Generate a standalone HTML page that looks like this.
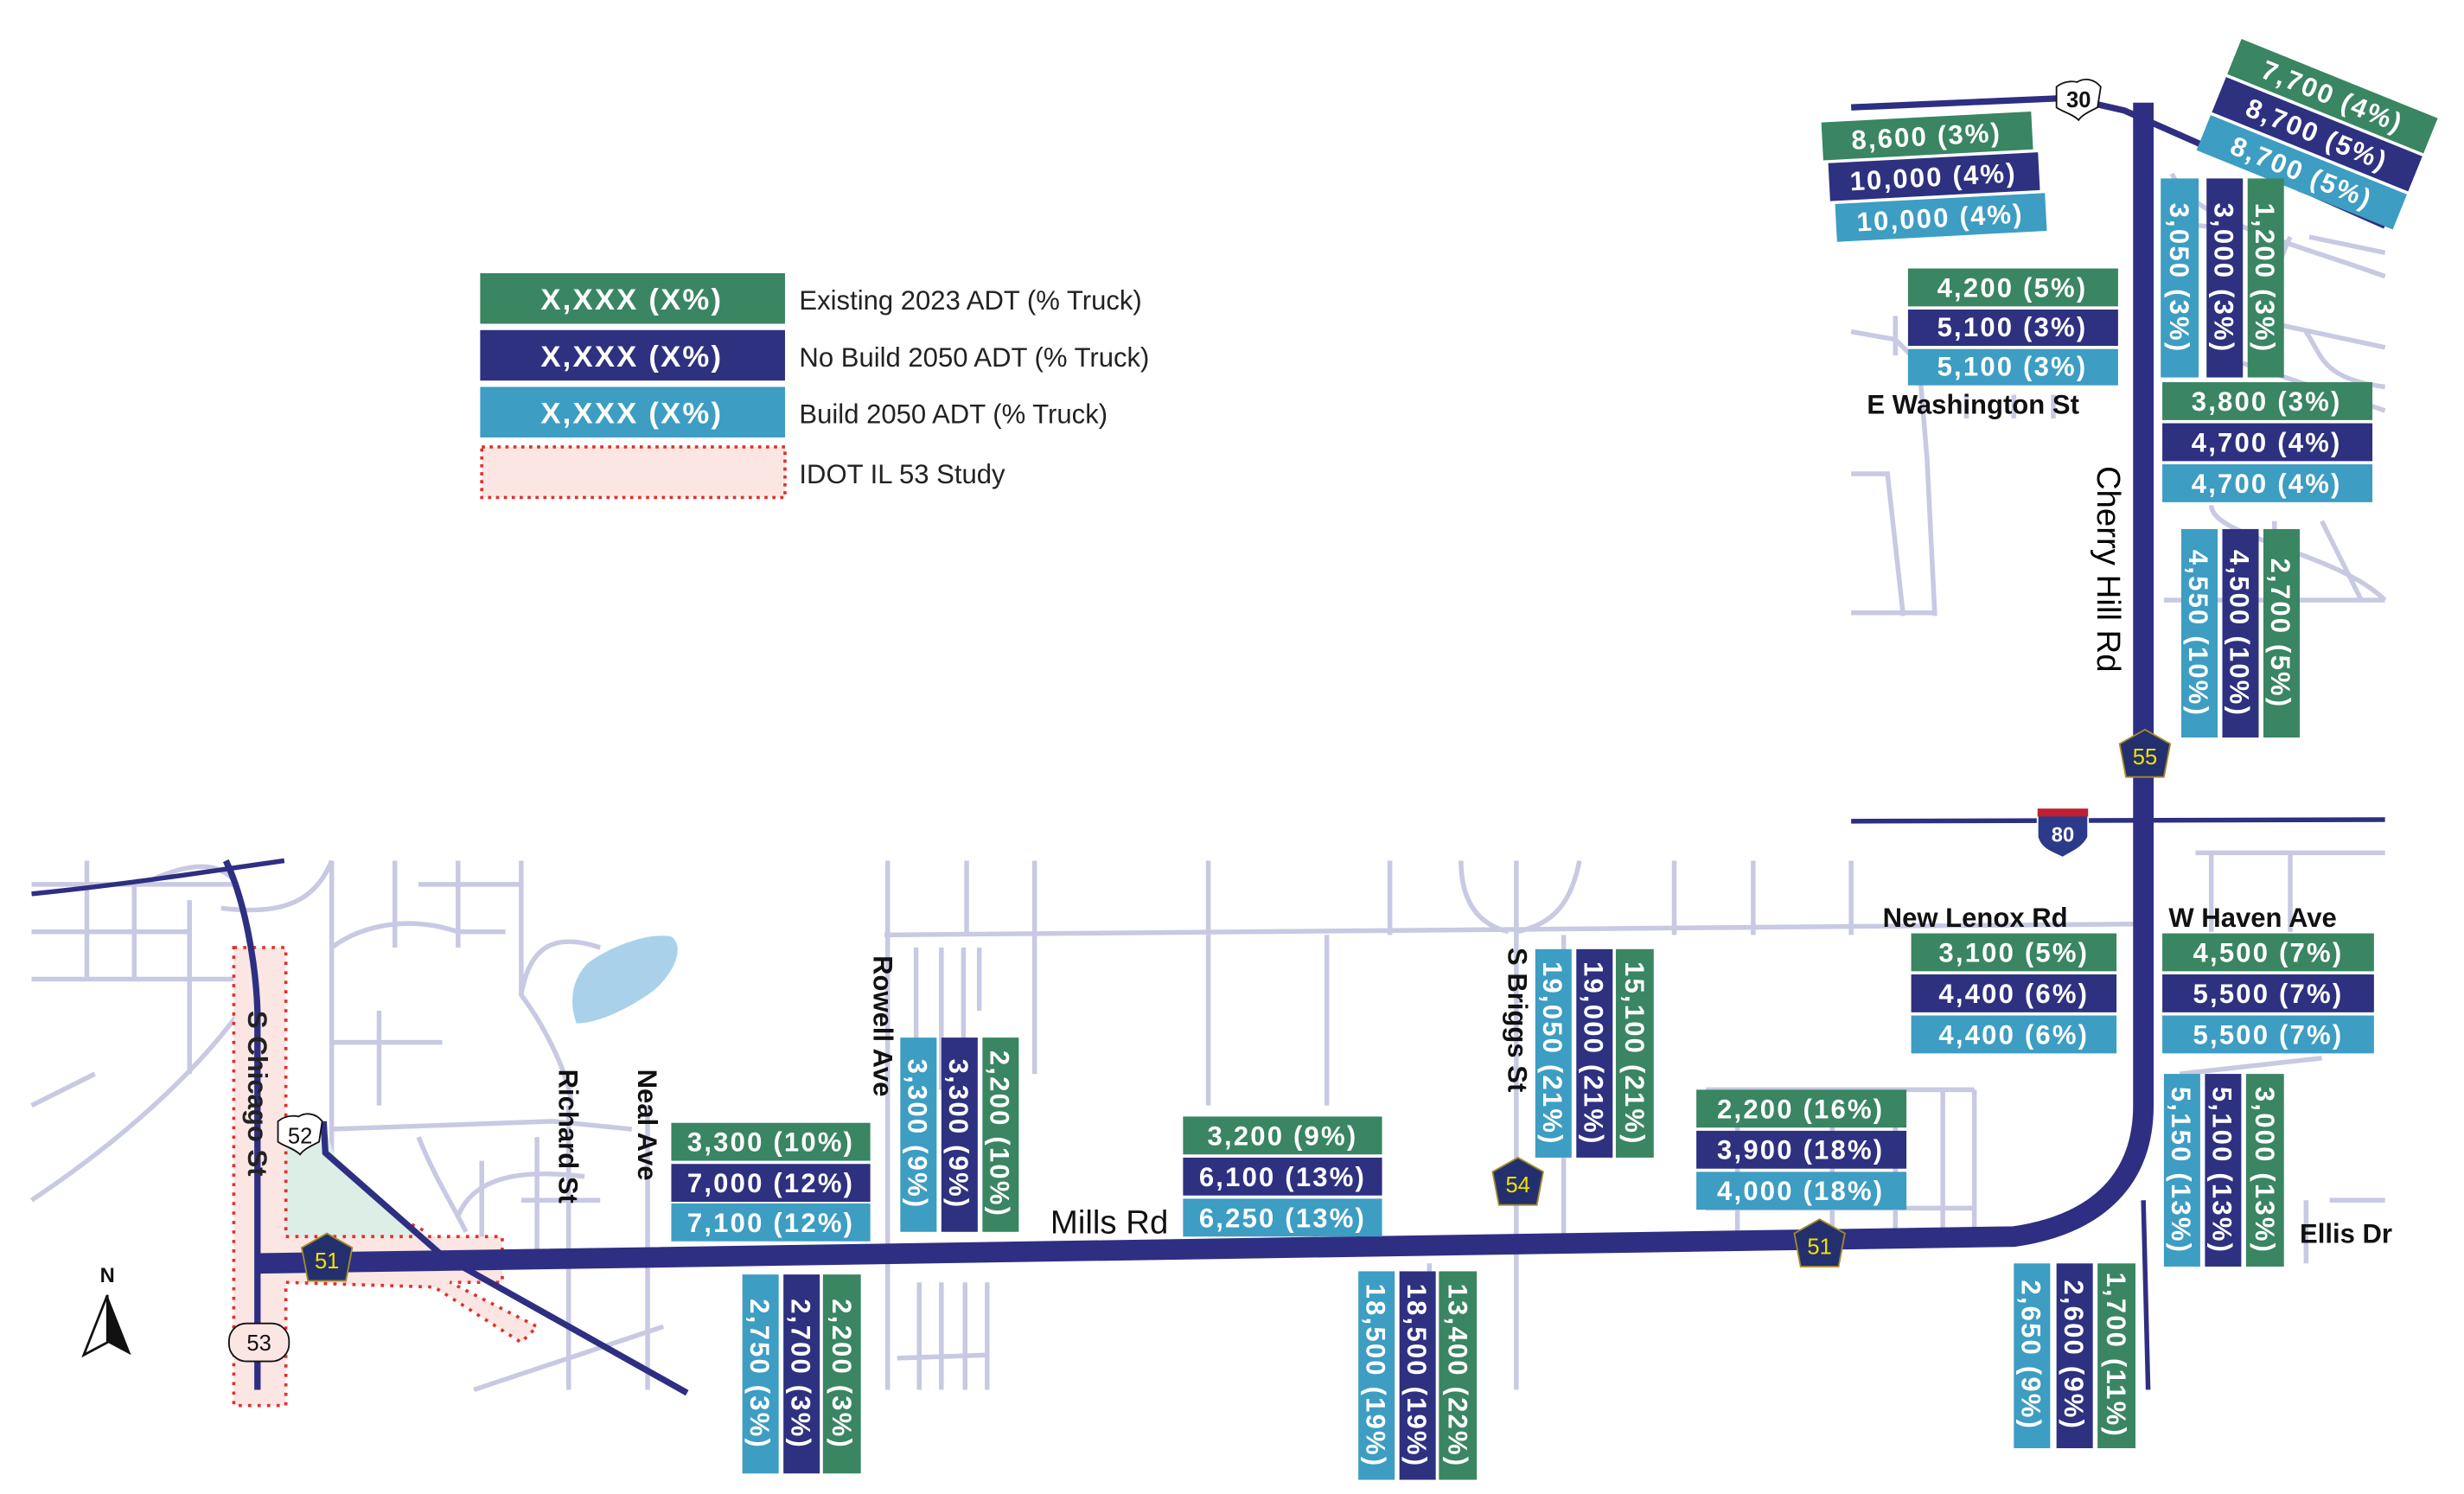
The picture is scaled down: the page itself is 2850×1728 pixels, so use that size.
<!DOCTYPE html>
<html><head><meta charset="utf-8"><style>
html,body{margin:0;padding:0;background:#fff;}
svg{display:block;}
text{font-family:"Liberation Sans",sans-serif;}
.b{font-weight:bold;fill:#fff;font-size:17px;letter-spacing:1.2px;}
.lbl{font-weight:bold;fill:#111;font-size:17px;}
</style></head><body>
<svg width="2850" height="1728" viewBox="0 0 1560 946" preserveAspectRatio="none" xmlns="http://www.w3.org/2000/svg">
<rect width="1560" height="946" fill="#fff"/>
<g stroke="#c8c9e2" stroke-width="3" fill="none">
<path d="M20,560 L150,560 M20,590 L120,590 M20,620 L150,620 M55,545 L55,620 M85,560 L85,620 M120,570 L120,680 M20,760 C80,720 150,660 175,600 M20,700 L60,680"/>
<path d="M90,560 C120,545 140,545 150,560 M140,575 C180,580 200,570 210,545"/>
<path d="M210,545 L210,760 M210,600 C230,585 260,580 290,590 L320,590 M250,545 L250,600 M265,560 L330,560 M290,545 L290,600 M330,545 L330,630 C345,650 360,680 362,700 M330,630 C335,600 350,590 380,600 M210,660 L280,660 M240,640 L240,700 M210,715 L350,710 L400,715 M265,720 C275,745 285,760 295,780 M305,735 L305,800 M340,720 L340,800 M360,700 L360,880 M300,880 L420,840 M290,770 C300,745 330,740 370,745 M330,760 L380,760 M410,700 L410,880"/>
<path d="M560,592 L1360,585 M562,545 L562,880 M612,545 L612,592 M655,545 L655,592 M765,545 L765,592 M880,545 L880,592 M925,545 C925,570 935,585 955,590 M1000,545 C995,570 985,585 960,590 M960,545 L960,880 M990,592 L990,790 M1060,545 L1060,592 M1110,545 L1110,592 M1172,545 L1172,592"/>
<path d="M580,600 L580,690 M596,600 L596,690 M610,600 L610,690 M620,600 L620,640 M655,592 L655,680 M765,592 L765,700 M840,592 L840,700 M582,812 L582,880 M596,812 L596,880 M611,812 L611,880 M625,812 L625,880 M568,860 L625,858 M905,800 L905,830 M1080,690 L1250,690 M1100,690 L1100,780 M1160,690 L1160,780 M1200,690 L1200,780 M1230,690 L1230,780 M1250,690 L1250,780 M1080,765 L1250,765"/>
<path d="M1172,210 L1200,215 L1215,230 L1220,290 L1225,390 M1172,300 L1195,300 L1205,390 M1172,388 L1225,388 M1200,200 L1200,225 M1245,250 L1245,265 M1275,250 L1275,265 M1300,250 L1300,265 M1375,110 C1390,140 1440,150 1510,175 M1450,150 C1440,170 1438,190 1440,205 L1510,220 M1462,150 L1510,160 M1460,210 C1470,225 1470,240 1510,245 M1420,230 L1510,260 M1400,320 C1400,340 1480,350 1510,380 M1470,330 C1480,350 1490,370 1495,380 M1370,380 L1510,380 M1440,330 L1440,380 M1370,140 L1410,145 M1455,120 L1500,135"/>
<path d="M1390,540 L1510,540 M1400,540 L1400,590 M1450,540 L1450,590 M1380,680 L1470,670 M1400,760 L1400,800 M1460,760 L1460,800 M1475,760 L1510,760"/>
</g>
<path d="M372,610 C385,600 410,590 425,593 C435,600 425,620 410,630 C395,640 378,648 365,648 C360,635 362,620 372,610 Z" fill="#a9d2ea"/>
<path d="M181,712 L205,712 L215,740 L270,785 L181,785 Z" fill="#dceee6"/>
<g fill="#fbe6e4" stroke="#e0302a" stroke-width="2" stroke-dasharray="2,4">
<path d="M148,600 L181,600 L181,783 L318,783 L318,812 L285,812 L340,840 L330,850 L275,815 L181,812 L181,890 L148,890 Z"/>
</g>
<path d="M250,770 L270,780" stroke="#e0302a" stroke-width="2" stroke-dasharray="2,4"/>
<g stroke="#2e2f82" fill="none">
<path d="M163,800 L1275,783 C1330,775 1357,745 1357,700 L1357,65" stroke-width="13"/>
<path d="M20,566 C80,560 130,552 180,545" stroke-width="3"/>
<path d="M143,545 C155,570 162,610 163,640 L163,880" stroke-width="4"/>
<path d="M181,712 L205,712 L206,730 L280,795 L435,882" stroke-width="4"/>
<path d="M1172,68 L1310,62 L1345,70 L1510,143" stroke-width="4"/>
<path d="M1172,520 L1510,519" stroke-width="3"/>
<path d="M1357,760 L1360,880" stroke-width="3"/>
</g>
<g>
<path d="M1302,55 C1308,50 1315,52 1315,52 C1320,49 1326,50 1330,55 L1328,68 C1322,71 1318,73 1316,76 C1312,72 1306,71 1302,68 Z" fill="#fff" stroke="#111" stroke-width="1"/>
<text x="1316" y="68" font-size="14" font-weight="bold" text-anchor="middle" fill="#111">30</text>
<path d="M176,710 C182,705 189,707 189,707 C194,704 200,705 204,710 L202,723 C196,726 192,728 190,731 C186,727 180,726 176,723 Z" fill="#fff" stroke="#111" stroke-width="1"/>
<text x="190" y="724" font-size="14" text-anchor="middle" fill="#111">52</text>
<rect x="145" y="838" width="38" height="24" rx="11" fill="#fbe6e4" stroke="#111" stroke-width="1"/>
<text x="164" y="855" font-size="14" text-anchor="middle" fill="#111">53</text>
<g fill="#24306e" stroke="#a38a2a" stroke-width="1">
<path d="M1358,462 L1374,471 L1370,492 L1346,492 L1342,471 Z"/>
<path d="M961,733 L977,742 L973,763 L949,763 L945,742 Z"/>
<path d="M1152,772 L1168,781 L1164,802 L1140,802 L1136,781 Z"/>
<path d="M207,781 L223,790 L219,811 L195,811 L191,790 Z"/>
</g>
<g fill="#f3e000" font-size="14" text-anchor="middle"><text x="1358" y="484">55</text><text x="961" y="755">54</text><text x="1152" y="794">51</text><text x="207" y="803">51</text></g>
<path d="M1290,514 L1322,514 L1322,530 C1318,538 1310,540 1306,543 C1300,540 1292,538 1290,530 Z" fill="#2b3a8a" stroke="#fff" stroke-width="1"/>
<rect x="1290" y="512" width="32" height="5" fill="#c02030"/>
<text x="1306" y="533" font-size="13" font-weight="bold" text-anchor="middle" fill="#fff">80</text>
</g>
<text x="68" y="812" font-size="13" font-weight="bold" text-anchor="middle" fill="#111">N</text>
<path d="M68,820 L53,858 L68,850 Z" fill="#fff" stroke="#111" stroke-width="1.5"/>
<path d="M68,820 L83,858 L68,850 Z" fill="#111"/>
<rect x="304" y="173" width="193" height="32" fill="#3a8562"/>
<rect x="304" y="209" width="193" height="32" fill="#2e3180"/>
<rect x="304" y="245" width="193" height="32" fill="#3d9dc2"/>
<rect x="305" y="283" width="192" height="32" fill="#fbe6e4" stroke="#e0302a" stroke-width="2" stroke-dasharray="2,3"/>
<g class="b" text-anchor="middle"><text x="400" y="196" font-size="19">X,XXX (X%)</text><text x="400" y="232" font-size="19">X,XXX (X%)</text><text x="400" y="268" font-size="19">X,XXX (X%)</text></g>
<g font-size="17" fill="#222"><text x="506" y="196">Existing 2023 ADT (% Truck)</text><text x="506" y="232">No Build 2050 ADT (% Truck)</text><text x="506" y="268">Build 2050 ADT (% Truck)</text><text x="506" y="306">IDOT IL 53 Study</text></g>
<g text-anchor="middle">
<g transform="rotate(-3 1222 112)">
<rect x="1155" y="74" width="133" height="24" fill="#3a8562"/><rect x="1158" y="100" width="133" height="24" fill="#2e3180"/><rect x="1161" y="126" width="133" height="24" fill="#3d9dc2"/>
<text class="b" x="1221" y="92">8,600 (3%)</text><text class="b" x="1224" y="118">10,000 (4%)</text><text class="b" x="1227" y="144">10,000 (4%)</text></g>
<g transform="rotate(22 1467 85)">
<rect x="1400" y="47" width="134" height="24" fill="#3a8562"/><rect x="1400" y="73" width="134" height="24" fill="#2e3180"/><rect x="1400" y="99" width="134" height="24" fill="#3d9dc2"/>
<text class="b" x="1467" y="65">7,700 (4%)</text><text class="b" x="1467" y="91">8,700 (5%)</text><text class="b" x="1467" y="117">8,700 (5%)</text></g>
<rect x="1208" y="170" width="133" height="24" fill="#3a8562"/><rect x="1208" y="196" width="133" height="23" fill="#2e3180"/><rect x="1208" y="221" width="133" height="23" fill="#3d9dc2"/>
<text class="b" x="1274" y="188">4,200 (5%)</text><text class="b" x="1274" y="213">5,100 (3%)</text><text class="b" x="1274" y="238">5,100 (3%)</text>
<rect x="1369" y="242" width="133" height="24" fill="#3a8562"/><rect x="1369" y="268" width="133" height="24" fill="#2e3180"/><rect x="1369" y="294" width="133" height="24" fill="#3d9dc2"/>
<text class="b" x="1435" y="260">3,800 (3%)</text><text class="b" x="1435" y="286">4,700 (4%)</text><text class="b" x="1435" y="312">4,700 (4%)</text>
<rect x="1210" y="591" width="130" height="24" fill="#3a8562"/><rect x="1210" y="617" width="130" height="24" fill="#2e3180"/><rect x="1210" y="643" width="130" height="24" fill="#3d9dc2"/>
<text class="b" x="1275" y="609">3,100 (5%)</text><text class="b" x="1275" y="635">4,400 (6%)</text><text class="b" x="1275" y="661">4,400 (6%)</text>
<rect x="1369" y="591" width="134" height="24" fill="#3a8562"/><rect x="1369" y="617" width="134" height="24" fill="#2e3180"/><rect x="1369" y="643" width="134" height="24" fill="#3d9dc2"/>
<text class="b" x="1436" y="609">4,500 (7%)</text><text class="b" x="1436" y="635">5,500 (7%)</text><text class="b" x="1436" y="661">5,500 (7%)</text>
<rect x="1074" y="690" width="133" height="24" fill="#3a8562"/><rect x="1074" y="716" width="133" height="24" fill="#2e3180"/><rect x="1074" y="742" width="133" height="24" fill="#3d9dc2"/>
<text class="b" x="1140" y="708">2,200 (16%)</text><text class="b" x="1140" y="734">3,900 (18%)</text><text class="b" x="1140" y="760">4,000 (18%)</text>
<rect x="749" y="707" width="126" height="24" fill="#3a8562"/><rect x="749" y="733" width="126" height="24" fill="#2e3180"/><rect x="749" y="759" width="126" height="24" fill="#3d9dc2"/>
<text class="b" x="812" y="725">3,200 (9%)</text><text class="b" x="812" y="751">6,100 (13%)</text><text class="b" x="812" y="777">6,250 (13%)</text>
<rect x="425" y="711" width="126" height="24" fill="#3a8562"/><rect x="425" y="737" width="126" height="24" fill="#2e3180"/><rect x="425" y="762" width="126" height="24" fill="#3d9dc2"/>
<text class="b" x="488" y="729">3,300 (10%)</text><text class="b" x="488" y="755">7,000 (12%)</text><text class="b" x="488" y="780">7,100 (12%)</text>
</g>
<g text-anchor="middle">
<rect x="1368" y="113" width="24" height="126" fill="#3d9dc2"/><rect x="1397" y="113" width="23" height="126" fill="#2e3180"/><rect x="1423" y="113" width="23" height="126" fill="#3a8562"/>
<text class="b" transform="translate(1374,176) rotate(90)">3,050 (3%)</text><text class="b" transform="translate(1402,176) rotate(90)">3,000 (3%)</text><text class="b" transform="translate(1428,176) rotate(90)">1,200 (3%)</text>
<rect x="1381" y="335" width="23" height="132" fill="#3d9dc2"/><rect x="1407" y="335" width="23" height="132" fill="#2e3180"/><rect x="1433" y="335" width="23" height="132" fill="#3a8562"/>
<text class="b" transform="translate(1386,401) rotate(90)">4,550 (10%)</text><text class="b" transform="translate(1412,401) rotate(90)">4,500 (10%)</text><text class="b" transform="translate(1438,401) rotate(90)">2,700 (5%)</text>
<rect x="1370" y="680" width="23" height="122" fill="#3d9dc2"/><rect x="1396" y="680" width="23" height="122" fill="#2e3180"/><rect x="1422" y="680" width="24" height="122" fill="#3a8562"/>
<text class="b" transform="translate(1375,741) rotate(90)">5,150 (13%)</text><text class="b" transform="translate(1401,741) rotate(90)">5,100 (13%)</text><text class="b" transform="translate(1428,741) rotate(90)">3,000 (13%)</text>
<rect x="1275" y="800" width="23" height="117" fill="#3d9dc2"/><rect x="1302" y="800" width="23" height="117" fill="#2e3180"/><rect x="1328" y="800" width="24" height="117" fill="#3a8562"/>
<text class="b" transform="translate(1280,858) rotate(90)">2,650 (9%)</text><text class="b" transform="translate(1307,858) rotate(90)">2,600 (9%)</text><text class="b" transform="translate(1334,858) rotate(90)">1,700 (11%)</text>
<rect x="972" y="601" width="23" height="132" fill="#3d9dc2"/><rect x="998" y="601" width="23" height="132" fill="#2e3180"/><rect x="1023" y="601" width="24" height="132" fill="#3a8562"/>
<text class="b" transform="translate(977,667) rotate(90)">19,050 (21%)</text><text class="b" transform="translate(1003,667) rotate(90)">19,000 (21%)</text><text class="b" transform="translate(1029,667) rotate(90)">15,100 (21%)</text>
<rect x="860" y="805" width="23" height="132" fill="#3d9dc2"/><rect x="886" y="805" width="23" height="132" fill="#2e3180"/><rect x="911" y="805" width="24" height="132" fill="#3a8562"/>
<text class="b" transform="translate(865,871) rotate(90)">18,500 (19%)</text><text class="b" transform="translate(891,871) rotate(90)">18,500 (19%)</text><text class="b" transform="translate(917,871) rotate(90)">13,400 (22%)</text>
<rect x="570" y="657" width="23" height="123" fill="#3d9dc2"/><rect x="596" y="657" width="23" height="123" fill="#2e3180"/><rect x="622" y="657" width="23" height="123" fill="#3a8562"/>
<text class="b" transform="translate(575,718) rotate(90)">3,300 (9%)</text><text class="b" transform="translate(601,718) rotate(90)">3,300 (9%)</text><text class="b" transform="translate(627,718) rotate(90)">2,200 (10%)</text>
<rect x="470" y="807" width="23" height="126" fill="#3d9dc2"/><rect x="496" y="807" width="23" height="126" fill="#2e3180"/><rect x="521" y="807" width="24" height="126" fill="#3a8562"/>
<text class="b" transform="translate(475,870) rotate(90)">2,750 (3%)</text><text class="b" transform="translate(501,870) rotate(90)">2,700 (3%)</text><text class="b" transform="translate(527,870) rotate(90)">2,200 (3%)</text>
</g>
<g class="lbl">
<text x="1182" y="262">E Washington St</text>
<text x="1192" y="587">New Lenox Rd</text>
<text x="1373" y="587">W Haven Ave</text>
<text x="1456" y="787">Ellis Dr</text>
<text transform="translate(1328,295) rotate(90)" font-weight="normal" font-size="21" fill="#000">Cherry Hill Rd</text>
<text transform="translate(955,600) rotate(90)">S Briggs St</text>
<text transform="translate(553,605) rotate(90)">Rowell Ave</text>
<text transform="translate(404,677) rotate(90)">Neal Ave</text>
<text transform="translate(354,677) rotate(90)">Richard St</text>
<text transform="translate(157,640) rotate(90)" fill="#222">S Chicago St</text>
<text x="665" y="781" font-weight="normal" font-size="21">Mills Rd</text>
</g>
</svg>
</body></html>
